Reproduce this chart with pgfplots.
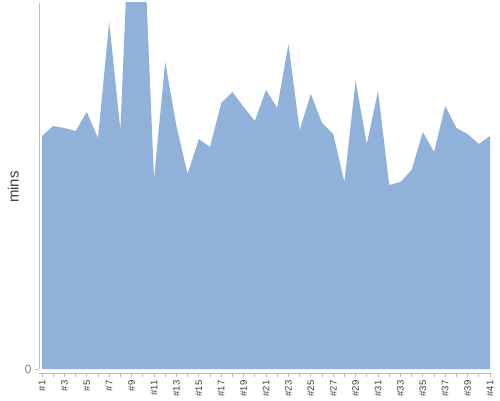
\documentclass[border=0pt]{standalone}
\usepackage{fontspec}
\setmainfont{Liberation Sans}
\usepackage{pgfplots}
\pgfplotsset{compat=1.18}
\definecolor{areablue}{RGB}{143,177,218}
\definecolor{axisgray}{RGB}{190,190,190}
\definecolor{labgray}{RGB}{60,60,60}
\begin{document}
\begin{tikzpicture}[x=1pt,y=1pt]
\useasboundingbox (0,0) rectangle (500,400);
\begin{axis}[
  at={(39pt,31pt)}, anchor=south west,
  scale only axis, width=452.7pt, height=366pt,
  xmin=0.732, xmax=41.15, ymin=0, ymax=366,
  axis x line=bottom, axis y line=left,
  axis line style={-, draw=axisgray, line width=0.8pt},
  axis x line shift=4pt,
  xtick={1,3,...,41},
  minor xtick={2,4,...,40},
  xticklabels={\#1,\#3,\#5,\#7,\#9,\#11,\#13,\#15,\#17,\#19,\#21,\#23,\#25,\#27,\#29,\#31,\#33,\#35,\#37,\#39,\#41},
  xticklabel style={rotate=90, anchor=east, font=\fontsize{9.5}{10}\selectfont, text=labgray},
  ytick={0},
  yticklabel style={font=\fontsize{12}{12}\selectfont, text=gray},
  /pgf/number format/assume math mode=true,
  tick align=outside,
  major tick length=4pt, minor tick length=4pt,
  tick style={draw=axisgray, line width=0.8pt},
  ylabel={mins},
  ylabel style={at={(axis description cs:-0.057,0.497)}, anchor=center, font=\fontsize{15}{15}\selectfont, text=labgray},
]
\addplot[fill=areablue, draw=none] coordinates {
(1,233) (2,243) (3,241) (4,238) (5,257) (6,231) (7,347) (8,239) (9,507) (10,460)
(11,190) (12,307) (13,243) (14,195) (15,230) (16,222) (17,266) (18,277) (19,262) (20,248)
(21,279) (22,261) (23,325) (24,239) (25,275) (26,246) (27,235) (28,187) (29,288) (30,225)
(31,278) (32,184) (33,187) (34,199) (35,237) (36,217) (37,263) (38,241) (39,235) (40,225)
(41,233)
} \closedcycle;
\end{axis}
\end{tikzpicture}
\end{document}
